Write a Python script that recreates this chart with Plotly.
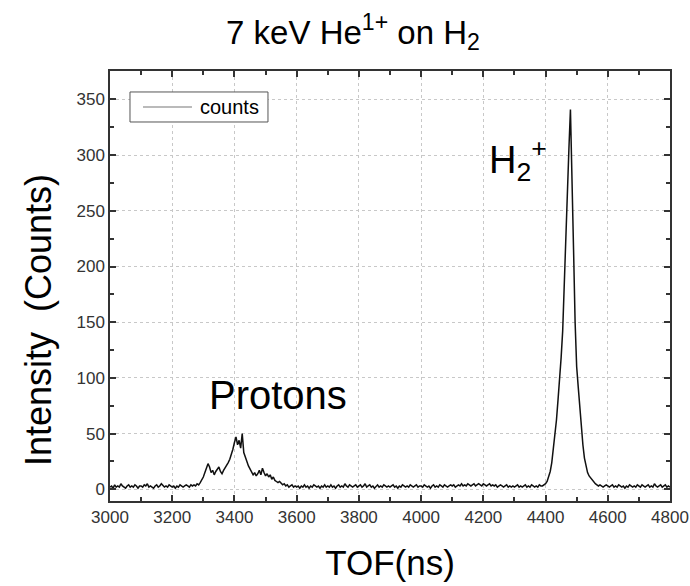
import plotly.graph_objects as go

# TOF bins (ns), 5 ns steps from 3000 to 4800
tof_start = 3000
tof_step = 5

# counts, one row per 100 ns
counts_3000 = [2, 3, 1, 4, 2, 3, 2, 5, 3, 2, 1, 3, 4, 2, 3, 2, 4, 3, 1, 3]
counts_3100 = [3, 2, 4, 3, 5, 2, 3, 2, 1, 3, 4, 2, 3, 5, 3, 2, 3, 2, 4, 3]
counts_3200 = [2, 3, 1, 3, 2, 4, 3, 2, 3, 4, 3, 2, 4, 3, 4, 3, 5, 4, 6, 8]
counts_3300 = [11, 15, 19, 23, 20, 15, 17, 13, 16, 18, 20, 16, 14, 17, 19, 21, 24, 27, 31, 36]
counts_3400 = [42, 47, 40, 44, 37, 50, 33, 28, 25, 21, 18, 16, 13, 15, 12, 14, 17, 13, 19, 15]
counts_3500 = [12, 14, 11, 13, 9, 11, 8, 7, 6, 7, 5, 4, 5, 3, 4, 2, 3, 4, 2, 3]
counts_3600 = [2, 3, 1, 3, 2, 4, 2, 3, 1, 3, 2, 4, 3, 2, 3, 1, 3, 2, 4, 2]
counts_3700 = [3, 2, 4, 2, 3, 1, 3, 4, 2, 3, 2, 5, 3, 2, 4, 3, 2, 3, 4, 2]
counts_3800 = [3, 4, 2, 3, 5, 2, 3, 4, 2, 3, 1, 3, 4, 2, 3, 2, 4, 3, 2, 3]
counts_3900 = [2, 3, 4, 2, 3, 1, 3, 2, 4, 3, 2, 3, 2, 4, 3, 2, 3, 4, 2, 3]
counts_4000 = [3, 2, 4, 3, 2, 3, 1, 3, 4, 2, 3, 2, 4, 3, 2, 4, 3, 2, 3, 4]
counts_4100 = [3, 4, 2, 3, 4, 3, 5, 3, 4, 3, 5, 4, 3, 4, 5, 3, 4, 5, 4, 3]
counts_4200 = [5, 4, 3, 4, 5, 3, 4, 3, 4, 2, 3, 4, 3, 2, 3, 4, 2, 3, 2, 3]
counts_4300 = [2, 3, 4, 2, 3, 2, 3, 4, 2, 3, 2, 4, 3, 2, 3, 2, 4, 3, 3, 4]
counts_4400 = [5, 7, 11, 16, 24, 35, 48, 62, 80, 97, 118, 142, 185, 235, 270, 305, 341, 290, 215, 150]
counts_4500 = [110, 92, 72, 54, 40, 28, 21, 15, 12, 10, 8, 6, 5, 4, 3, 4, 3, 2, 3, 4]
counts_4600 = [3, 2, 3, 4, 2, 3, 2, 4, 3, 2, 3, 1, 3, 2, 4, 3, 2, 3, 2, 4]
counts_4700 = [3, 2, 4, 3, 2, 3, 4, 2, 3, 2, 5, 3, 2, 3, 4, 2, 3, 4, 2, 3]
counts_4800 = [2]

counts = (counts_3000 + counts_3100 + counts_3200 + counts_3300 + counts_3400 +
          counts_3500 + counts_3600 + counts_3700 + counts_3800 + counts_3900 +
          counts_4000 + counts_4100 + counts_4200 + counts_4300 + counts_4400 +
          counts_4500 + counts_4600 + counts_4700 + counts_4800)
tof = [tof_start + tof_step * i for i in range(len(counts))]

x_range = [3000, 4800]
y_range = [-10.5, 375.5]
x_ticks = [3000, 3200, 3400, 3600, 3800, 4000, 4200, 4400, 4600, 4800]
y_ticks = [0, 50, 100, 150, 200, 250, 300, 350]

FONT = "Liberation Sans, Arial, sans-serif"
AX = "#333333"

fig = go.Figure()
fig.add_trace(go.Scatter(
    x=tof, y=counts, mode="lines", name="counts", showlegend=False,
    line=dict(color="#111111", width=1.5),
))

axis_common = dict(
    showline=True, linecolor=AX, linewidth=1.5, mirror="allticks",
    ticks="inside", ticklen=6, tickwidth=1.5, tickcolor=AX,
    showgrid=True, gridcolor="#c8c8c8", griddash="dot", gridwidth=1,
    zeroline=False, automargin=False,
    tickfont=dict(family=FONT, size=17, color="#333333"),
)

# legend frame drawn in plot-paper coordinates
legend_shapes = [
    dict(type="rect", xref="paper", yref="paper", x0=0.0357, x1=0.2821, y0=0.8814, y1=0.9512,
         line=dict(color="#555555", width=1), fillcolor="white", layer="above"),
    dict(type="line", xref="paper", yref="paper", x0=0.0589, x1=0.1464, y0=0.9163, y1=0.9163,
         line=dict(color="#777777", width=1.2), layer="above"),
]

fig.update_layout(
    width=690, height=586,
    margin=dict(l=110, r=20, t=71, b=85, autoexpand=False),
    paper_bgcolor="white", plot_bgcolor="white",
    font=dict(family=FONT, color="black"),
    title=dict(text="7 keV He<sup>1+</sup> on H<sub>2</sub>", x=353/690, xanchor="center",
               y=1 - 32/586, yanchor="middle", font=dict(size=33, family=FONT, color="black"),
               automargin=False),
    xaxis=dict(range=x_range, tickvals=x_ticks, ticktext=[str(v) for v in x_ticks],
               minor=dict(dtick=100, ticks="inside", ticklen=4, tickwidth=1.5, tickcolor=AX, showgrid=False),
               title=dict(text="TOF(ns)", font=dict(size=35, family=FONT, color="black"), standoff=24),
               **axis_common),
    yaxis=dict(range=y_range, tickvals=y_ticks, ticktext=[str(v) for v in y_ticks],
               minor=dict(dtick=25, tick0=0, ticks="inside", ticklen=4, tickwidth=1.5, tickcolor=AX, showgrid=False),
               **axis_common),
    showlegend=False,
    shapes=legend_shapes,
    annotations=[
        dict(x=0.1571, y=0.9163, xref="paper", yref="paper", text="counts", showarrow=False,
             font=dict(size=20, family=FONT, color="black"), xanchor="left", yanchor="middle"),
        dict(x=(38 - 110) / 560, y=(501 - 320) / 430, xref="paper", yref="paper",
             text="Intensity  (Counts)", textangle=-90, showarrow=False,
             font=dict(size=36, family=FONT, color="black"), xanchor="center", yanchor="middle"),
        dict(x=3540, y=85, xref="x", yref="y", text="Protons", showarrow=False,
             font=dict(size=40, family=FONT, color="black"), xanchor="center", yanchor="middle"),
        dict(x=4312, y=296, xref="x", yref="y", text="H<sub>2</sub><sup>+</sup>", showarrow=False,
             font=dict(size=38, family=FONT, color="black"), xanchor="center", yanchor="middle"),
    ],
)

fig.write_html("out.html")
